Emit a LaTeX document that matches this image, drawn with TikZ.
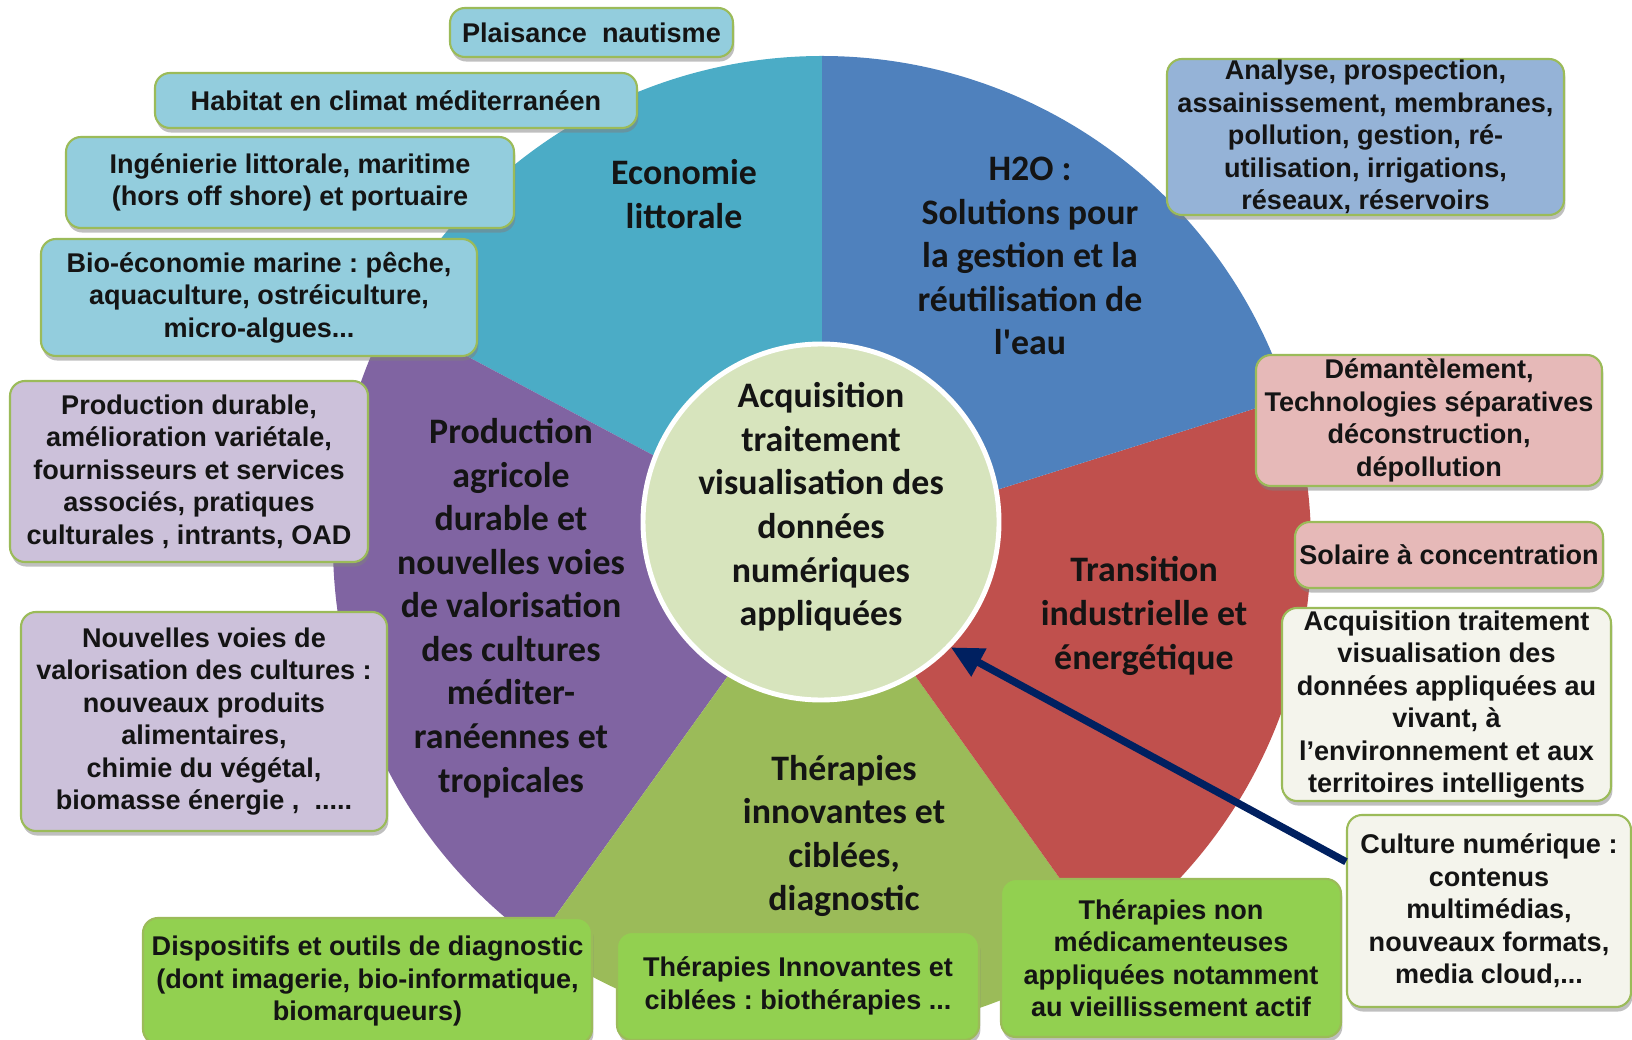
\documentclass[tikz,border=0pt]{standalone}
\usepackage{fontspec}
\setmainfont{Liberation Sans}
\newfontfamily\calfont{Carlito}
\usepackage{tikz}
\usetikzlibrary{arrows.meta,shadows}
\frenchspacing
\definecolor{seafill}{HTML}{4BACC6}
\definecolor{waterfill}{HTML}{4F81BD}
\definecolor{energyfill}{HTML}{C0504D}
\definecolor{healthfill}{HTML}{9BBB59}
\definecolor{agrifill}{HTML}{8064A2}
\definecolor{hubfill}{HTML}{D7E4BD}
\definecolor{seabox}{HTML}{93CDDD}
\definecolor{waterbox}{HTML}{95B3D7}
\definecolor{energybox}{HTML}{E6B9B8}
\definecolor{agribox}{HTML}{CCC1DA}
\definecolor{healthbox}{HTML}{92D050}
\definecolor{digitalbox}{HTML}{F4F4EC}
\definecolor{boxline}{HTML}{9BBB59}
\definecolor{navy}{RGB}{0,32,96}

\begin{document}
\begin{tikzpicture}[
  every node/.style={text=black!92},
  box/.style={draw=boxline,line width=0.6pt,rounded corners=0.15cm,align=center,inner xsep=1pt,inner ysep=0pt,
    font=\fontsize{7.7}{9.25}\selectfont\bfseries,
    drop shadow={shadow xshift=0.4pt,shadow yshift=-1.3pt,opacity=0.5}},
  sea/.style={box,fill=seabox},
  water/.style={box,fill=waterbox},
  energy/.style={box,fill=energybox},
  agri/.style={box,fill=agribox},
  health/.style={box,fill=healthbox},
  digital/.style={box,fill=digitalbox},
  sector/.style={font=\calfont\fontsize{10.2}{12.4}\selectfont\bfseries,align=center},
  link/.style={-{Triangle[length=0.32cm,width=0.3cm]},line width=2.1pt,draw=navy}]
 \useasboundingbox (0,0) rectangle (16.32,10.39);
 \coordinate (pc) at (8.22,4.94);
 \foreach \a/\b/\c in {90/152/seafill,152/234.3/agrifill,234.3/305.5/healthfill,305.5/377.5/energyfill,17.5/90/waterfill}
   \fill[\c] (pc) -- ++(\a:4.89cm) arc[start angle=\a,end angle=\b,radius=4.89cm] -- cycle;
 \node[sector] (econ) at (6.84,8.45) {Economie\\littorale};
 \node[sector] (h2o) at (10.30,7.83) {H2O :\\Solutions pour\\la gestion et la\\réutilisation de\\l'eau};
 \node[sector] (prodag) at (5.11,4.31) {Production\\agricole\\durable et\\nouvelles voies\\de valorisation\\des cultures\\méditer-\\ranéennes et\\tropicales};
 \node[sector] (trans) at (11.44,4.23) {Transition\\industrielle et\\énergétique};
 \node[sector] (ther) at (8.44,2.03) {Thérapies\\innovantes et\\ciblées,\\diagnostic};
 \node[sea,minimum width=2.83cm,minimum height=0.49cm] (plai) at (5.915,10.065) {Plaisance\ \ nautisme};
 \node[sea,minimum width=4.82cm,minimum height=0.55cm] (habi) at (3.96,9.385) {Habitat en climat méditerranéen};
 \node[sea,minimum width=4.48cm,minimum height=0.91cm] (inge) at (2.90,8.565) {Ingénierie littorale, maritime\\(hors off shore) et portuaire};
 \node[sea,minimum width=4.36cm,minimum height=1.17cm] (bioe) at (2.59,7.415) {Bio-économie marine : pêche,\\aquaculture, ostréiculture,\\micro-algues...};
 \node[agri,minimum width=3.58cm,minimum height=1.81cm] (prod) at (1.89,5.675) {Production durable,\\amélioration variétale,\\fournisseurs et services\\associés, pratiques\\culturales , intrants, OAD};
 \node[agri,minimum width=3.66cm,minimum height=2.19cm] (nouv) at (2.04,3.175) {Nouvelles voies de\\valorisation des cultures :\\nouveaux produits\\alimentaires,\\chimie du végétal,\\biomasse énergie ,\ \ .....};
 \node[health,minimum width=4.49cm,minimum height=1.26cm] (disp) at (3.675,0.58) {Dispositifs et outils de diagnostic\\(dont imagerie, bio-informatique,\\biomarqueurs)};
 \node[health,minimum width=3.62cm,minimum height=1.08cm] (thin) at (7.98,0.53) {Thérapies Innovantes et\\ciblées : biothérapies ...};
 \node[health,minimum width=3.40cm,minimum height=1.58cm] (thno) at (11.71,0.81) {Thérapies non\\médicamenteuses\\appliquées notamment\\au vieillissement actif};
 \node[digital,minimum width=2.84cm,minimum height=1.92cm] (cult) at (14.89,1.28) {Culture numérique :\\contenus\\multimédias,\\nouveaux formats,\\media cloud,...};
 \node[digital,minimum width=3.29cm,minimum height=1.93cm] (acqb) at (14.465,3.345) {Acquisition traitement\\visualisation des\\données appliquées au\\vivant, à\\l’environnement et aux\\territoires intelligents};
 \node[energy,minimum width=3.08cm,minimum height=0.66cm] (sola) at (14.49,4.84) {Solaire à concentration};
 \node[energy,minimum width=3.46cm,minimum height=1.31cm] (dema) at (14.29,6.185) {Démantèlement,\\Technologies séparatives\\déconstruction,\\dépollution};
 \node[water,minimum width=3.97cm,minimum height=1.56cm] (anal) at (13.655,9.02) {Analyse, prospection,\\assainissement, membranes,\\pollution, gestion, ré-\\utilisation, irrigations,\\réseaux, réservoirs};
 \node[circle,fill=hubfill,draw=white,line width=1.4pt,minimum size=3.56cm] (hub) at (8.21,5.17) {};
 \node[sector] (acq) at ([yshift=0.15cm]hub.center) {Acquisition\\traitement\\visualisation des\\données\\numériques\\appliquées};
 \draw[link] (cult.161) -- (hub.-44);
\end{tikzpicture}
\end{document}
